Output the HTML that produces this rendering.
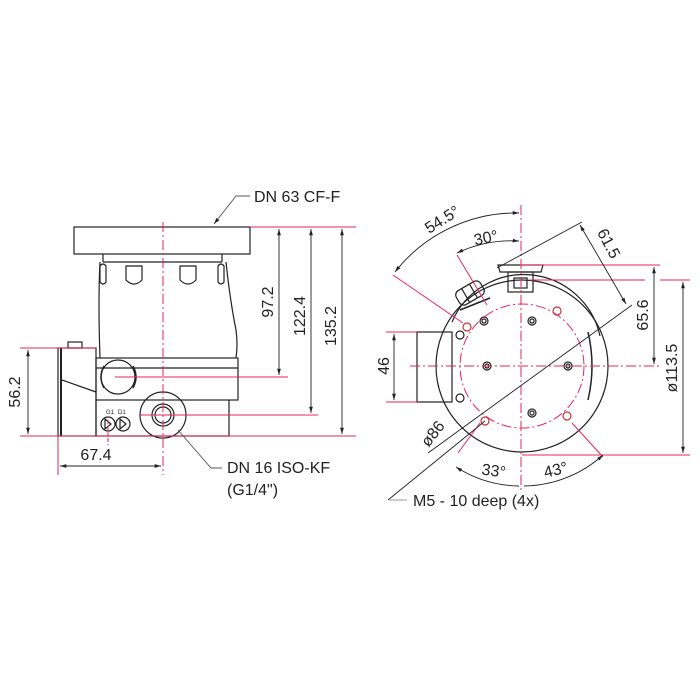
<!DOCTYPE html>
<html><head><meta charset="utf-8"><style>
html,body{margin:0;padding:0;background:#fff}
svg{display:block}
text{font-family:"Liberation Sans",Arial,sans-serif;fill:#222;font-size:16px}
</style></head><body>
<svg width="700" height="700" viewBox="0 0 700 700" xmlns="http://www.w3.org/2000/svg">
<defs>
<marker id="a" viewBox="0 0 10 10" refX="10" refY="5" markerWidth="7" markerHeight="7" orient="auto-start-reverse"><path d="M0,2 L10,5 L0,8 z" fill="#222"/></marker>
</defs>
<rect width="700" height="700" fill="#fff"/>

<!-- LEFT VIEW -->
<g stroke="#222" stroke-width="1.2" fill="none">
<rect x="74" y="227" width="176" height="27"/>
<path d="M103,254 V262 M222,254 V262 M103,262 H222"/>
<path d="M100,262 Q98,300 100,358 M226,262 Q230,300 236,330 Q238,345 236,358"/>
<path d="M100,266 q3,-4 6,0 v16 q-3,4 -6,0z M126,266 h16 v14 q-8,8 -16,0z M180,266 h16 v14 q-8,8 -16,0z M218,266 q3,-4 6,0 v16 q-3,4 -6,0z"/>
<rect x="96" y="358" width="142" height="42"/>
<path d="M96,368 H238"/>
<path d="M96,400 V436 H229 V400"/>
<rect x="58" y="348" width="38" height="88"/>
<path d="M61,348 V436" stroke-width="2"/>
<rect x="68" y="342" width="14" height="6"/>
<path d="M62,380 L96,392"/>
<circle cx="118" cy="377" r="17"/>
<path d="M104,366 q-6,11 0,22 M133,366 q6,11 0,22" stroke-width="1.5"/>
<circle cx="163" cy="415" r="23"/>
<circle cx="163" cy="415" r="11"/>
<circle cx="163" cy="415" r="8"/>
<circle cx="108" cy="424" r="7"/><circle cx="123" cy="424" r="7"/>
<path d="M105,419 l6,5 l-6,5z M120,419 l6,5 l-6,5z"/>
</g>
<text x="106" y="414" style="font-size:6px">G1</text><text x="118" y="414" style="font-size:6px">D1</text>

<g stroke="#e8245a" stroke-width="1" fill="none">
<path d="M163,222 V475" stroke-dasharray="10,3,2,3"/>
<path d="M250,227 H356 M115,377 H288 M140,415 H318 M20,436 H356 M20,348 H96 M58,436 V475"/>
<path d="M108,420 V445" stroke-dasharray="4,2"/>
</g>
<g stroke="#222" stroke-width="0.9" fill="none">
<path d="M279,229 V375" marker-start="url(#a)" marker-end="url(#a)"/>
<path d="M311,229 V413" marker-start="url(#a)" marker-end="url(#a)"/>
<path d="M342,229 V434" marker-start="url(#a)" marker-end="url(#a)"/>
<path d="M28,350 V434" marker-start="url(#a)" marker-end="url(#a)"/>
<path d="M60,466 H161" marker-start="url(#a)" marker-end="url(#a)"/>
<path d="M250,196 H236 L214,224" marker-end="url(#a)" stroke="#555"/>
<path d="M222,468 H211 L178,430" stroke="#555"/>
</g>
<text x="254" y="202">DN 63 CF-F</text>
<text x="227" y="473">DN 16 ISO-KF</text>
<text x="227" y="495">(G1/4")</text>
<text x="96" y="460" text-anchor="middle">67.4</text>
<text transform="translate(273,302) rotate(-90)" text-anchor="middle">97.2</text>
<text transform="translate(305,316) rotate(-90)" text-anchor="middle">122.4</text>
<text transform="translate(336,326) rotate(-90)" text-anchor="middle">135.2</text>
<text transform="translate(20,392) rotate(-90)" text-anchor="middle">56.2</text>

<!-- RIGHT VIEW -->
<g stroke="#222" stroke-width="1.2" fill="none">
<circle cx="522" cy="366" r="86"/>
<path d="M452,322 A78,78 0 0 1 600,336" />
<path d="M588,332 Q596,366 588,400" stroke-width="1.5"/>
<rect x="417" y="332" width="35" height="70"/>
<path d="M498,265 H543 L541,272 H500z"/>
<rect x="508" y="272" width="25" height="20"/>
<rect x="514" y="278" width="13" height="10"/>
<g transform="translate(470,293) rotate(-30)">
<rect x="-14" y="-8" width="28" height="16" rx="5"/>
<path d="M-5,-8 V8 M4,-8 V8"/>
</g>
<path d="M460,310 L490,298" stroke-width="1.5"/>
<circle cx="484" cy="321" r="4"/><circle cx="484" cy="321" r="2"/>
<circle cx="487" cy="366" r="4"/><circle cx="487" cy="366" r="2"/>
<circle cx="568" cy="366" r="4"/><circle cx="568" cy="366" r="2"/>
<circle cx="532" cy="413" r="4"/><circle cx="532" cy="413" r="2"/>
<circle cx="532" cy="321" r="4"/><circle cx="532" cy="321" r="2"/>
<circle cx="460" cy="335" r="4"/><circle cx="460" cy="398" r="4"/>
</g>
<g stroke="#c33" stroke-width="1.2" fill="none">
<circle cx="467" cy="327" r="4"/><circle cx="557" cy="311" r="4"/>
<circle cx="485" cy="421" r="4"/><circle cx="567" cy="416" r="4"/>
</g>
<g stroke="#e8245a" stroke-width="1" fill="none">
<circle cx="522" cy="366" r="62" stroke-dasharray="10,3,2,3"/>
<path d="M521,205 V490 M410,366 H660" stroke-dasharray="10,3,2,3"/>
<path d="M520,265 H660 M530,280 H645 M660,280 H690 M522,455 H690 M386,332 H417 M386,402 H417"/>
<path d="M393,275 L463,323 M457,255 L487,305 M458,453 L480,423 M603,457 L572,423"/>
</g>
<g stroke="#222" stroke-width="0.9" fill="none">
<path d="M395,272 A154,154 0 0 1 519,213" marker-start="url(#a)" marker-end="url(#a)"/>
<path d="M457,253 A128,128 0 0 1 519,241" marker-start="url(#a)" marker-end="url(#a)"/>
<path d="M456,467 A120,120 0 0 0 519,486" marker-start="url(#a)"/>
<path d="M524,486 A120,120 0 0 0 603,455" marker-end="url(#a)"/>
<path d="M497,268 L582,222"/>
<path d="M580,225 L626,304" marker-start="url(#a)" marker-end="url(#a)"/>
<path d="M654,267 V364" marker-start="url(#a)" marker-end="url(#a)"/>
<path d="M683,282 V453" marker-start="url(#a)" marker-end="url(#a)"/>
<path d="M394,334 V400" marker-start="url(#a)" marker-end="url(#a)"/>
<path d="M428,453 L632,305"/>
<path d="M388,500 L485,421"/>
<path d="M390,500 H407" stroke="#999"/>
</g>
<text transform="translate(445,224) rotate(-32)" text-anchor="middle">54.5°</text>
<text transform="translate(487,243) rotate(-12)" text-anchor="middle">30°</text>
<text transform="translate(604,246) rotate(62)" text-anchor="middle">61.5</text>
<text transform="translate(648,315) rotate(-90)" text-anchor="middle">65.6</text>
<text transform="translate(677,368) rotate(-90)" text-anchor="middle">ø113.5</text>
<text transform="translate(389,366) rotate(-90)" text-anchor="middle">46</text>
<text transform="translate(437,437) rotate(-52)" text-anchor="middle">ø86</text>
<text transform="translate(493,476) rotate(8)" text-anchor="middle">33°</text>
<text transform="translate(557,475) rotate(-14)" text-anchor="middle">43°</text>
<text x="413" y="506">M5 - 10 deep (4x)</text>
</svg>
</body></html>
